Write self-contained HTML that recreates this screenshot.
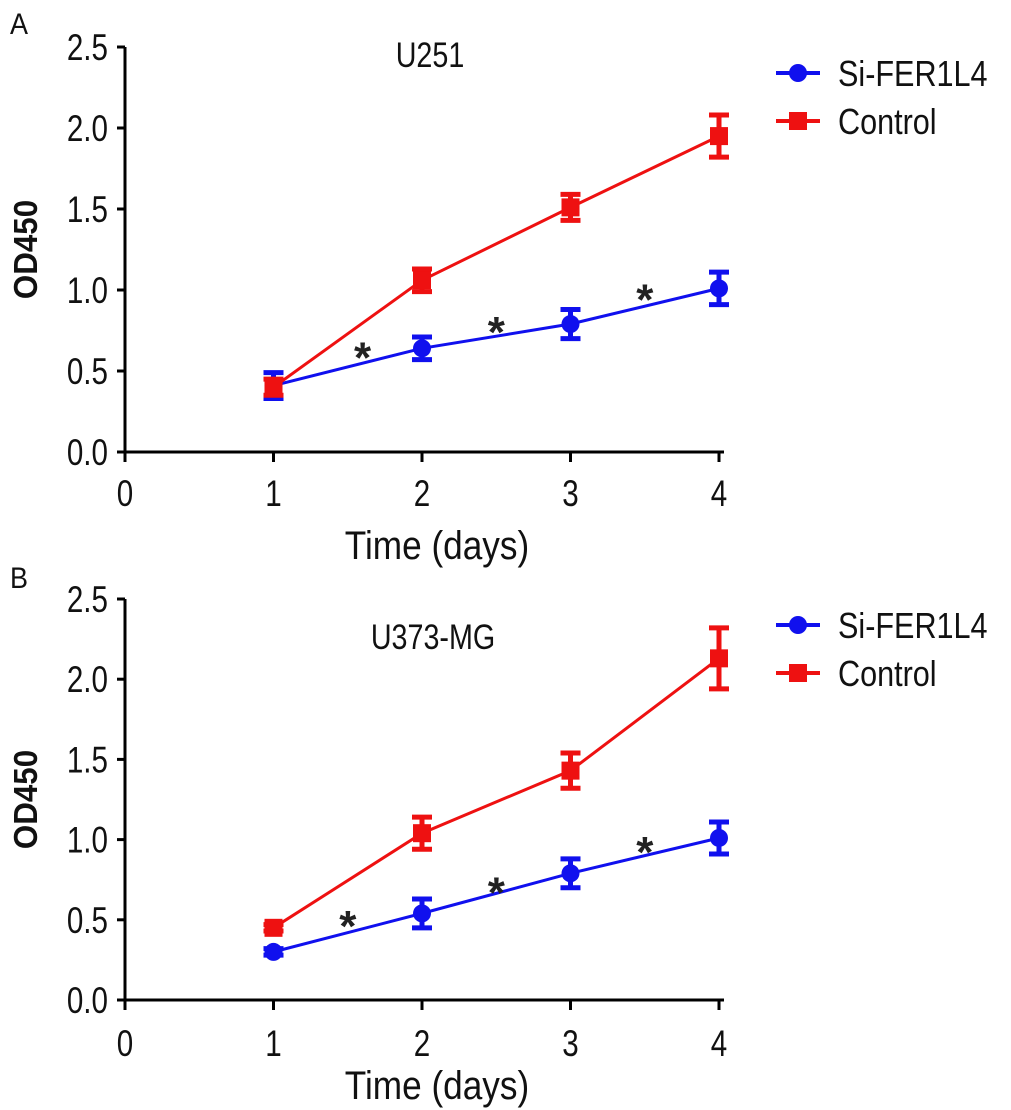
<!DOCTYPE html>
<html><head><meta charset="utf-8"><style>
html,body{margin:0;padding:0;background:#fff;}
svg{display:block;font-family:"Liberation Sans",Arial,sans-serif;}
</style></head><body>
<svg id="fig" width="1011" height="1110" viewBox="0 0 1011 1110"></svg>
<script>
const days=[1,2,3,4];
const xTicks=[0,1,2,3,4];
const yTicks=[0,0.5,1.0,1.5,2.0,2.5];
const aSi=[0.41,0.64,0.79,1.01];
const aSiErr=[0.08,0.07,0.09,0.10];
const aCtl=[0.40,1.06,1.51,1.95];
const aCtlErr=[0.05,0.07,0.08,0.13];
const aStarX=[1.6,2.5,3.5];
const aStarY=[0.65,0.81,1.01];
const bSi=[0.30,0.54,0.79,1.01];
const bSiErr=[0.02,0.09,0.09,0.10];
const bCtl=[0.45,1.04,1.43,2.13];
const bCtlErr=[0.02,0.10,0.11,0.19];
const bStarX=[1.5,2.5,3.5];
const bStarY=[0.53,0.74,0.99];

const NS="http://www.w3.org/2000/svg";
const svg=document.getElementById('fig');
function mk(tag,attrs,parent){const e=document.createElementNS(NS,tag);for(const k in attrs)e.setAttribute(k,attrs[k]);(parent||svg).appendChild(e);return e;}
function txt(parent,x,y,s,size,anchor,sx,extra){
  const t=mk('text',Object.assign({x:0,y:0,'text-anchor':anchor,'font-size':size,fill:'#111',transform:`translate(${x} ${y}) scale(${sx} 1)`},extra||{}),parent);
  t.textContent=s;return t;
}

function panel(cfg){
  const g=mk('g',{});
  
  
  const x0=125,xs=148.5,y0=cfg.y0,ys=cfg.ys;
  const X=v=>x0+v*xs, Y=v=>y0-v*ys;
  const axisEnd=X(4)+5;
  const ya=mk('line',{x1:x0,y1:Y(2.5),x2:x0,y2:y0,stroke:'#000','stroke-width':3},g);
  
  const xa=mk('line',{x1:x0-8,y1:y0,x2:axisEnd,y2:y0,stroke:'#000','stroke-width':3},g);
  
  yTicks.forEach(t=>{
    mk('line',{x1:x0-8,y1:Y(t),x2:x0,y2:Y(t),stroke:'#000','stroke-width':3},g);
    const tx=txt(g,x0-17,Y(t)+13,t.toFixed(1),37,'end',0.8);
    
  });
  xTicks.forEach(t=>{
    mk('line',{x1:X(t),y1:y0,x2:X(t),y2:y0+10,stroke:'#000','stroke-width':3},g);
    const tx=txt(g,X(t),cfg.xlY,String(t),37,'middle',0.8);
    
  });
  const xt=txt(g,437,cfg.xtY,'Time (days)',40,'middle',0.88);
  
  const yc=(Y(2.5)+y0)/2;
  const yt=mk('text',{x:0,y:0,'text-anchor':'middle','font-size':33,fill:'#111','font-weight':'bold',transform:`translate(37 ${yc}) rotate(-90) scale(0.95 1)`},g);
  yt.textContent='OD450';
  
  const pl=txt(g,10,cfg.letterY,cfg.letter,30,'start',0.9);
  
  const tt=txt(g,cfg.titleX,cfg.titleY,cfg.title,35,'middle',0.82);
  

  function series(vals,errs,color,shape,name){
    const sg=mk('g',{},g);
    
    
    const pl=mk('polyline',{points:days.map((d,i)=>X(d)+','+Y(vals[i])).join(' '),fill:'none',stroke:color,'stroke-width':3},sg);
    
    days.forEach((d,i)=>{
      const cx=X(d),cy=Y(vals[i]),top=Y(vals[i]+errs[i]),bot=Y(vals[i]-errs[i]);
      const eb=mk('path',{d:`M${cx},${top}V${bot}M${cx-10},${top}H${cx+10}M${cx-10},${bot}H${cx+10}`,stroke:color,'stroke-width':5,fill:'none'},sg);
      
      let m;
      if(shape==='c') m=mk('circle',{cx:cx,cy:cy,r:9,fill:color},sg);
      else m=mk('rect',{x:cx-9,y:cy-9,width:18,height:18,fill:color},sg);
      
    });
  }
  series(cfg.si,cfg.siErr,'#1010ee','c','si-fer1l4-series');
  series(cfg.ctl,cfg.ctlErr,'#ee1111','s','control-series');
  cfg.sx.forEach((sx,i)=>{
    const st=mk('text',{x:X(sx),y:Y(cfg.sy[i])+26,'text-anchor':'middle','font-size':44,'font-weight':'bold',fill:'#222'},g);
    st.textContent='*';
    
  });
  [['Si-FER1L4','#1010ee','c',cfg.legY],['Control','#ee1111','s',cfg.legY+48]].forEach(([lab,col,sh,ly])=>{
    const lg=mk('g',{},g);
    
    
    mk('line',{x1:776,y1:ly,x2:820,y2:ly,stroke:col,'stroke-width':4},lg);
    if(sh==='c') mk('circle',{cx:798,cy:ly,r:9,fill:col},lg);
    else mk('rect',{x:789,y:ly-9,width:18,height:18,fill:col},lg);
    txt(lg,838,ly+13,lab,36,'start',0.85);
  });
}
panel({name:'panel-a-u251',letter:'A',letterY:34,title:'U251',titleX:430,titleY:67,y0:452,ys:162,xlY:506,xtY:559,si:aSi,siErr:aSiErr,ctl:aCtl,ctlErr:aCtlErr,sx:aStarX,sy:aStarY,legY:73});
panel({name:'panel-b-u373mg',letter:'B',letterY:588,title:'U373-MG',titleX:433,titleY:649,y0:1000,ys:160.4,xlY:1056,xtY:1099,si:bSi,siErr:bSiErr,ctl:bCtl,ctlErr:bCtlErr,sx:bStarX,sy:bStarY,legY:625});
</script>
</body></html>
